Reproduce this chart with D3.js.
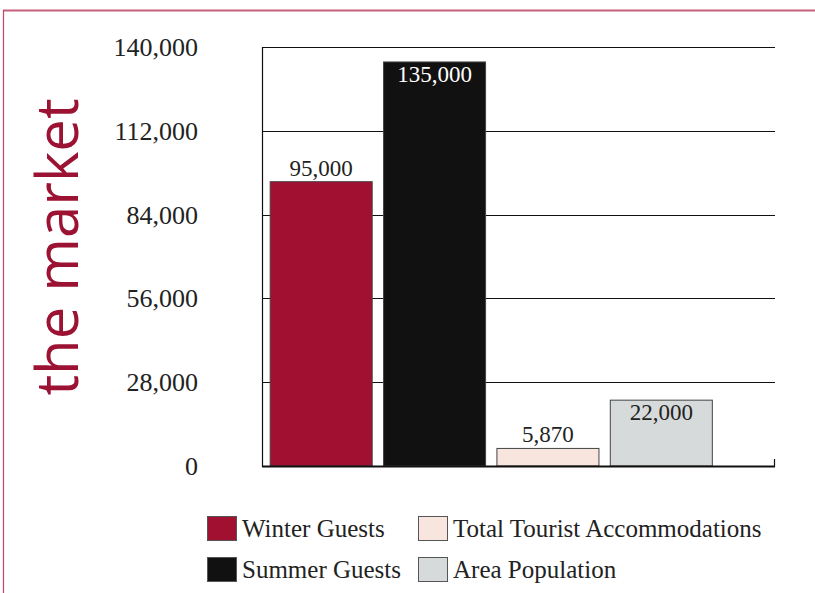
<!DOCTYPE html>
<html><head><meta charset="utf-8">
<script src="https://cdn.jsdelivr.net/npm/d3@7"></script>
<style>body{margin:0;background:#fff}svg{display:block}</style>
</head><body>
<svg id="c" width="815" height="593"></svg>
<script>
const categories = ["Winter Guests", "Summer Guests", "Total Tourist Accommodations", "Area Population"];
const values = [95000, 135000, 5870, 22000];
const valueLabels = ["95,000", "135,000", "5,870", "22,000"];
const tickValues = [0, 28000, 56000, 84000, 112000, 140000];
const colors = ["#a11030", "#111111", "#f7e5de", "#d6dada"];
const labelInside = [false, true, false, true];
const labelColors = ["#222", "#fff", "#222", "#222"];
const legendOrder = [0, 2, 1, 3];

const svg = d3.select("#c");
const serif = "'Liberation Serif', 'Times New Roman', serif";

// frame
svg.append("line").attr("x1", 3).attr("x2", 815).attr("y1", 10.5).attr("y2", 10.5).attr("stroke", "#c4607a").attr("stroke-width", 2);
svg.append("line").attr("x1", 3.5).attr("x2", 3.5).attr("y1", 10).attr("y2", 593).attr("stroke", "#b84a66").attr("stroke-width", 1.2);

// title
svg.append("text").attr("transform", "translate(78,247) rotate(-90)")
  .attr("text-anchor", "middle").attr("font-family", "'Open Sans', 'Noto Sans', sans-serif")
  .attr("font-size", 58).attr("fill", "#9b1232").text("the market");

const x = d3.scaleBand().domain(categories).range([264.5, 718]).paddingInner(0.1).paddingOuter(0.05);
const y = d3.scaleLinear().domain([0, 140000]).range([466, 47]);

// grid
svg.append("g").selectAll("line").data(tickValues.filter(d => d > 0)).join("line")
  .attr("x1", 262).attr("x2", 775).attr("y1", d => Math.round(y(d)) + 0.5).attr("y2", d => Math.round(y(d)) + 0.5)
  .attr("stroke", "#111").attr("stroke-width", 1.2);

// y axis
const yAxis = d3.axisLeft(y).tickValues(tickValues).tickSize(0).tickPadding(0)
  .tickFormat(d3.format(","));
const gy = svg.append("g").attr("transform", "translate(198,0)").call(yAxis);
gy.select(".domain").remove();
gy.selectAll("text").attr("font-family", serif).attr("font-size", 26).attr("fill", "#222").attr("dy", "0.33em");
svg.append("line").attr("x1", 262.5).attr("x2", 262.5).attr("y1", 47).attr("y2", 467).attr("stroke", "#111").attr("stroke-width", 1.2);

// bars
svg.append("g").selectAll("rect").data(categories).join("rect")
  .attr("x", d => x(d)).attr("width", x.bandwidth())
  .attr("y", (d, i) => y(values[i])).attr("height", (d, i) => y(0) - y(values[i]))
  .attr("fill", (d, i) => colors[i]).attr("stroke", "#444").attr("stroke-width", 1);

// baseline
svg.append("line").attr("x1", 262).attr("x2", 775).attr("y1", 466.5).attr("y2", 466.5).attr("stroke", "#111").attr("stroke-width", 2);
svg.append("line").attr("x1", 774.5).attr("x2", 774.5).attr("y1", 459).attr("y2", 467).attr("stroke", "#111").attr("stroke-width", 1.2);

// value labels
svg.append("g").selectAll("text").data(categories).join("text")
  .attr("x", d => x(d) + x.bandwidth() / 2)
  .attr("y", (d, i) => labelInside[i] ? y(values[i]) + 20 : y(values[i]) - 6)
  .attr("text-anchor", "middle").attr("font-family", serif).attr("font-size", 23)
  .attr("fill", (d, i) => labelColors[i]).text((d, i) => valueLabels[i]);

// legend
const legPos = [[207, 516], [418, 516], [207, 557], [418, 557]];
const lg = svg.append("g");
legendOrder.forEach((ci, k) => {
  const [lx, ly] = legPos[k];
  lg.append("rect").attr("x", lx + 0.5).attr("y", ly + 0.5).attr("width", 29).attr("height", 24)
    .attr("fill", colors[ci]).attr("stroke", "#555").attr("stroke-width", 1);
  lg.append("text").attr("x", lx + 35).attr("y", ly + 21).attr("font-family", serif).attr("font-size", 25)
    .attr("fill", "#222").text(categories[ci]);
});
</script>
</body></html>
